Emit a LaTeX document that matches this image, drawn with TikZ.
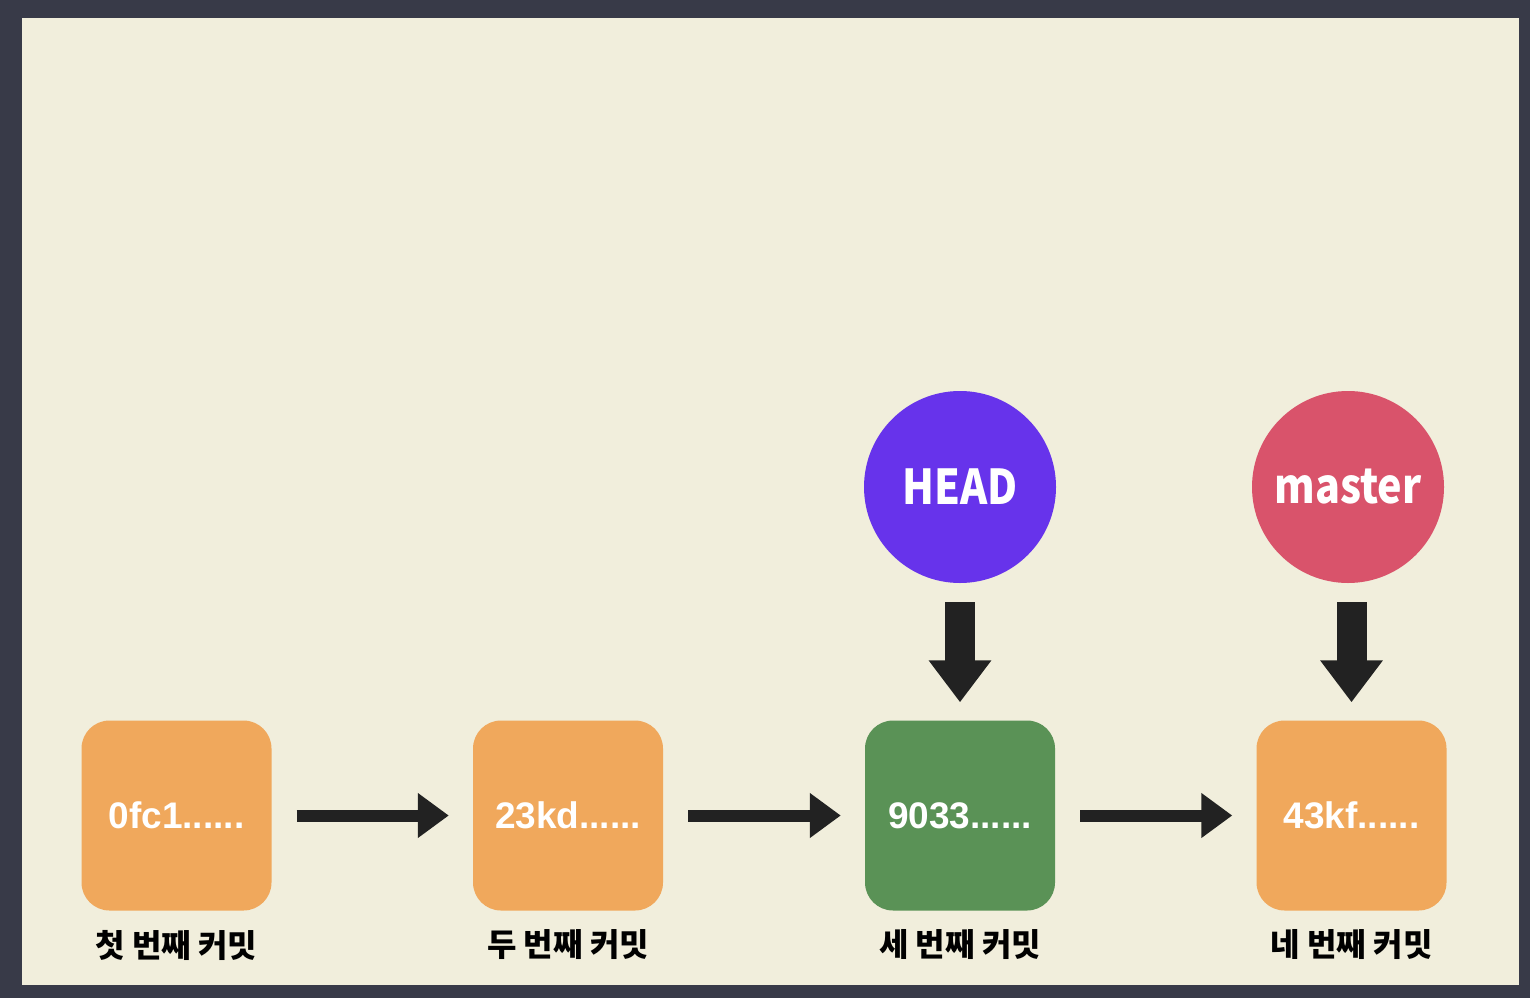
\documentclass[tikz,border=0pt]{standalone}
\usepackage{fontspec}
\setmainfont{Noto Sans CJK KR}
\newfontfamily\hashfont{Liberation Sans}
\newfontfamily\reffont[FakeStretch=0.86]{Noto Sans CJK KR}
\usetikzlibrary{arrows.meta}

\definecolor{framegray}{HTML}{383A48}
\definecolor{paper}{HTML}{F1EEDC}
\definecolor{orangebox}{HTML}{F0A85C}
\definecolor{greenbox}{HTML}{5A9256}
\definecolor{headpurple}{HTML}{6733EB}
\definecolor{masterred}{HTML}{D9536B}
\definecolor{ink}{HTML}{222222}

\tikzset{
  commitbox/.style={rectangle, rounded corners=28pt, minimum size=190pt, inner sep=0pt,
    text=white, font=\hashfont\bfseries\fontsize{37}{37}\selectfont},
  refcircle/.style={circle, minimum size=192pt, inner sep=0pt,
    text=white, font=\reffont\bfseries\fontsize{48}{48}\selectfont},
  caption/.style={font=\bfseries\fontsize{32}{32}\selectfont, text=black},
  nextarrow/.style={draw=ink, line width=12pt, -{Triangle[length=31pt,width=43pt]},
    shorten <=25pt, shorten >=24pt},
  pointarrow/.style={draw=ink, line width=30pt, -{Triangle[length=42pt,width=60pt]},
    shorten <=19pt, shorten >=18pt}
}

\begin{document}
\begin{tikzpicture}[x=1pt,y=-1pt]
\fill[framegray] (0,0) rectangle (1530,998) ;
\fill[paper] (22,18) rectangle (1519,985) ;

\node[commitbox, fill=orangebox] (c1) at (176.5,815.5) {0fc1......} ;
\node[commitbox, fill=orangebox] (c2) at (568,815.5) {23kd......} ;
\node[commitbox, fill=greenbox] (c3) at (960,815.5) {9033......} ;
\node[commitbox, fill=orangebox] (c4) at (1351.5,815.5) {43kf......} ;

\node[caption] (l1) at (176.5,945) {첫 번째 커밋} ;
\node[caption] (l2) at (568,945) {두 번째 커밋} ;
\node[caption] (l3) at (960,945) {세 번째 커밋} ;
\node[caption] (l4) at (1351.5,945) {네 번째 커밋} ;

\node[refcircle, fill=headpurple] (head) at (960,487) {HEAD} ;
\node[refcircle, fill=masterred] (master) at (1348,487) {master} ;

\draw[nextarrow] (c1) -- (c2) ;
\draw[nextarrow] (c2) -- (c3) ;
\draw[nextarrow] (c3) -- (c4) ;
\draw[pointarrow] (head) -- (c3) ;
\draw[pointarrow] (c4.north |- master.south) -- (c4.north) ;
\end{tikzpicture}
\end{document}
